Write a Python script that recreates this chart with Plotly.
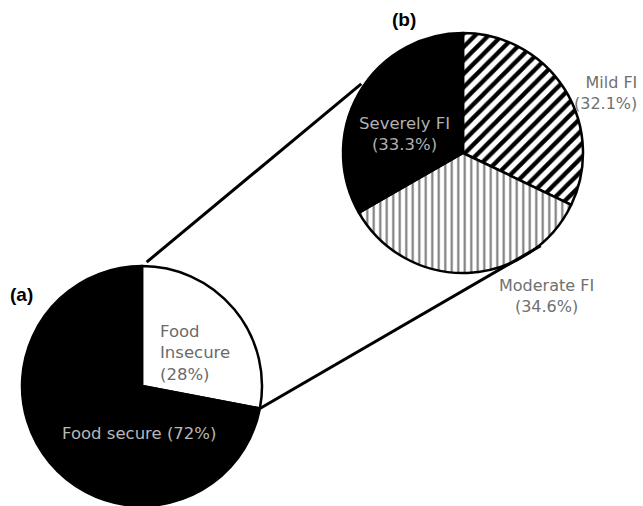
import math
import plotly.graph_objects as go

# Overall food security split (panel a)
labels_a = ["Food Insecure", "Food secure"]
values_a = [28, 72]

# Breakdown of the food-insecure group (panel b)
labels_b = ["Mild FI", "Moderate FI", "Severely FI"]
values_b = [32.1, 34.6, 33.3]

W, H = 643, 506

# Pie geometry in pixels (centre x, centre y from top, radius)
CA = (142, 386, 120)
CB = (463, 153, 120)


def domain(c):
    cx, cy, r = c
    return dict(x=[(cx - r) / W, (cx + r) / W],
                y=[(H - cy - r) / H, (H - cy + r) / H])


def px(x, y):
    return x / W, 1 - y / H


def polar(c, frac, rr=None):
    # point on a pie at a cumulative fraction, clockwise from 12 o'clock
    cx, cy, r = c
    rr = r if rr is None else rr
    a = 2 * math.pi * frac
    return cx + rr * math.sin(a), cy - rr * math.cos(a)


fig = go.Figure()

fig.add_trace(go.Pie(
    labels=labels_a, values=values_a, sort=False, direction="clockwise",
    rotation=0, domain=domain(CA), textinfo="none", hoverinfo="label+percent",
    marker=dict(colors=["white", "black"], line=dict(color="black", width=2.5)),
    showlegend=False,
))

fig.add_trace(go.Pie(
    labels=labels_b, values=values_b, sort=False, direction="clockwise",
    rotation=0, domain=domain(CB), textinfo="none", hoverinfo="label+percent",
    marker=dict(colors=["white", "white", "black"],
                line=dict(color="black", width=2.5),
                pattern=dict(shape=["/", "|", ""],
                             fgcolor=["black", "#7a7a7a", "black"],
                             bgcolor="white", size=[9.5, 6.5, 8],
                             solidity=[0.45, 0.32, 0.3])),
    showlegend=False,
))

# Connector lines from the food-insecure wedge to the breakdown pie
x0, y0 = polar(CA, 0.006, CA[2] + 4)
x1, y1 = polar(CB, -0.155, CB[2] + 3)
x2, y2 = polar(CA, values_a[0] / sum(values_a))
x3, y3 = polar(CB, 0.389, CB[2] + 1)
shapes = []
for (ax, ay), (bx, by) in [((x0, y0), (x1, y1)), ((x2, y2), (x3, y3))]:
    p, q = px(ax, ay), px(bx, by)
    shapes.append(dict(type="line", xref="paper", yref="paper",
                       x0=p[0], y0=p[1], x1=q[0], y1=q[1],
                       line=dict(color="black", width=3)))

FONT = "DejaVu Sans"
ann = []


def text(x, y, s, color, size=16, bold=False, align="center", xanchor="center"):
    xx, yy = px(x, y)
    ann.append(dict(x=xx, y=yy, xref="paper", yref="paper", text=s,
                    showarrow=False, xanchor=xanchor, yanchor="middle",
                    align=align,
                    font=dict(family="Liberation Sans" if bold else FONT,
                              size=size, color=color)))


text(21, 294, "<b>(a)</b>", "black", size=19, bold=True)
text(404, 20, "<b>(b)</b>", "black", size=19, bold=True)

text(158, 353, "Food<br>Insecure<br>(28%)", "#6a6a6a", size=16.5,
     align="left", xanchor="left")
text(139, 433, "Food secure (72%)", "#b8b8b8", size=16.5)

text(404, 134, "Severely FI<br>(33.3%)", "#b0b0b0", size=16.5)
text(605, 93, "Mild FI<br>(32.1%)", "#707070", size=16, align="right")
text(546, 296, "Moderate FI<br>(34.6%)", "#707070", size=16)

fig.update_layout(
    width=W, height=H, margin=dict(l=0, r=0, t=0, b=0),
    paper_bgcolor="white", plot_bgcolor="white",
    shapes=shapes, annotations=ann,
)

fig.write_html("out.html")
